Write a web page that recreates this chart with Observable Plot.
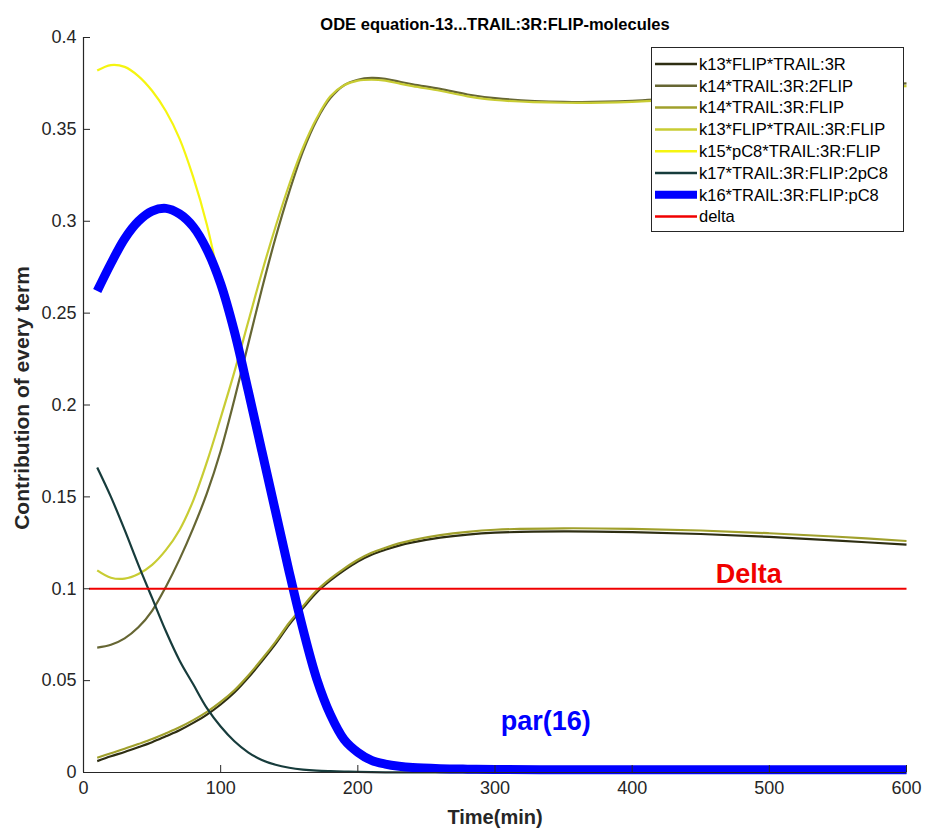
<!DOCTYPE html>
<html><head><meta charset="utf-8">
<script src="https://cdn.jsdelivr.net/npm/d3@7"></script>
<script src="https://cdn.jsdelivr.net/npm/@observablehq/plot@0.6"></script>
<style>
body{margin:0;background:#fff;}
#wrap{position:relative;width:925px;height:837px;}
#legend{position:absolute;left:651px;top:47px;}
</style></head><body><div id="wrap"></div>
<script>
// ---- data ----
const time = [10,20,30,40,50,60,70,80,90,100,110,120,130,140,150,160,170,180,190,200,210,220,230,240,260,280,300,350,400,450,500,550,600];
const k13_FLIP_TRAIL_3R = [0.0062,0.0088,0.0112,0.0138,0.0165,0.0197,0.0230,0.0270,0.0315,0.0370,0.0435,0.0515,0.0605,0.0700,0.0805,0.0895,0.0980,0.1045,0.1100,0.1148,0.1185,0.1212,0.1235,0.1252,0.1278,0.1295,0.1305,0.1312,0.1308,0.1298,0.1282,0.1262,0.1240];
const k14_TRAIL_3R_2FLIP = [0.0680,0.0695,0.0730,0.0790,0.0880,0.1010,0.1160,0.1330,0.1520,0.1750,0.2030,0.2330,0.2630,0.2910,0.3160,0.3380,0.3550,0.3670,0.3740,0.3770,0.3780,0.3775,0.3760,0.3745,0.3720,0.3690,0.3670,0.3650,0.3655,0.3680,0.3710,0.3730,0.3750];
const k14_TRAIL_3R_FLIP = [0.0080,0.0105,0.0129,0.0155,0.0182,0.0213,0.0246,0.0285,0.0330,0.0384,0.0448,0.0527,0.0616,0.0711,0.0815,0.0905,0.0990,0.1055,0.1110,0.1158,0.1196,0.1223,0.1247,0.1265,0.1292,0.1310,0.1321,0.1329,0.1326,0.1317,0.1302,0.1283,0.1260];
const k13_FLIP_TRAIL_3R_FLIP = [0.1100,0.1060,0.1055,0.1080,0.1130,0.1210,0.1320,0.1480,0.1690,0.1930,0.2180,0.2450,0.2720,0.2970,0.3200,0.3400,0.3560,0.3680,0.3740,0.3765,0.3770,0.3765,0.3750,0.3735,0.3710,0.3680,0.3660,0.3645,0.3650,0.3670,0.3700,0.3720,0.3735];
const k15_pC8_TRAIL_3R_FLIP = [0.3820,0.3850,0.3840,0.3790,0.3710,0.3600,0.3450,0.3240,0.2980,0.2650,0.2380,0.2060,0.1730,0.1400,0.1070,0.0760,0.0500,0.0310,0.0180,0.0110,0.0065,0.0045,0.0033,0.0026,0.0020,0.0018,0.0016,0.0015,0.0015,0.0015,0.0015,0.0015,0.0015];
const k17_TRAIL_3R_FLIP_2pC8 = [0.1660,0.1500,0.1320,0.1130,0.0950,0.0770,0.0610,0.0480,0.0350,0.0250,0.0170,0.0110,0.0068,0.0042,0.0026,0.0016,0.0010,0.0007,0.0005,0.0003,0.0002,0.0001,0.0001,0.0001,0,0,0,0,0,0,0,0,0];
const k16_TRAIL_3R_FLIP_pC8 = [0.2620,0.2770,0.2905,0.3000,0.3055,0.3070,0.3040,0.2970,0.2845,0.2660,0.2400,0.2080,0.1750,0.1420,0.1090,0.0780,0.0510,0.0315,0.0180,0.0110,0.0066,0.0046,0.0034,0.0027,0.0021,0.0018,0.0016,0.0015,0.0015,0.0015,0.0015,0.0015,0.0015];
const deltaTime = [4, 600];
const deltaValue = [0.1, 0.1];

const seriesNames = ["k13*FLIP*TRAIL:3R","k14*TRAIL:3R:2FLIP","k14*TRAIL:3R:FLIP","k13*FLIP*TRAIL:3R:FLIP","k15*pC8*TRAIL:3R:FLIP","k17*TRAIL:3R:FLIP:2pC8","k16*TRAIL:3R:FLIP:pC8","delta"];
const seriesColors = ["#2e2e12","#666633","#a0a02c","#c8cc33","#f5f510","#173c3c","#0000ff","#f00000"];
const seriesWidths = [2.2,2.2,2.2,2.2,2.2,2.2,9,2.2];
const seriesValues = [k13_FLIP_TRAIL_3R,k14_TRAIL_3R_2FLIP,k14_TRAIL_3R_FLIP,k13_FLIP_TRAIL_3R_FLIP,k15_pC8_TRAIL_3R_FLIP,k17_TRAIL_3R_FLIP_2pC8,k16_TRAIL_3R_FLIP_pC8];

const xTicks = [0,100,200,300,400,500,600];
const xTickLabels = ["0","100","200","300","400","500","600"];
const yTicks = [0,0.05,0.1,0.15,0.2,0.25,0.3,0.35,0.4];
const yTickLabels = ["0","0.05","0.1","0.15","0.2","0.25","0.3","0.35","0.4"];

const titleText = "ODE equation-13...TRAIL:3R:FLIP-molecules";
const xLabel = "Time(min)";
const yLabel = "Contribution of every term";
const annotations = [
  {t: 485, v: 0.108, text: "Delta", color: "#f00000"},
  {t: 337, v: 0.028, text: "par(16)", color: "#0000ff"}
];

// ---- layout ----
const W = 925, H = 837;
const mL = 83, mR = 19, mT = 37, mB = 65;
const frameW = W - mL - mR, frameH = H - mT - mB;
const FONT = "'Liberation Sans', Arial, Helvetica, sans-serif";
const AX = "#262626";

const marks = [];
seriesValues.forEach((vals, k) => {
  const data = time.map((t, i) => ({t, v: vals[i]}));
  marks.push(Plot.line(data, {x: "t", y: "v", stroke: seriesColors[k], strokeWidth: seriesWidths[k], curve: "catmull-rom", strokeLinecap: "butt"}));
});
marks.push(Plot.line(deltaTime.map((t, i) => ({t, v: deltaValue[i]})), {x: "t", y: "v", stroke: seriesColors[7], strokeWidth: 2.2, strokeLinecap: "butt"}));

marks.push(Plot.ruleX([0], {stroke: AX, strokeWidth: 1.2}));
marks.push(Plot.ruleY([0], {stroke: AX, strokeWidth: 1.2}));
marks.push(Plot.tickY(yTicks, {stroke: AX, strokeWidth: 1, insetRight: frameW - 7}));
marks.push(Plot.tickX(xTicks, {stroke: AX, strokeWidth: 1, insetTop: frameH - 7}));
marks.push(Plot.axisX(xTicks, {tickSize: 0, tickPadding: 9, tickFormat: d => xTickLabels[xTicks.indexOf(d)], label: null, fill: AX, fontSize: 18}));
marks.push(Plot.axisY(yTicks, {tickSize: 0, tickPadding: 7, tickFormat: d => yTickLabels[yTicks.indexOf(d)], label: null, fill: AX, fontSize: 18}));

marks.push(Plot.text([titleText], {frameAnchor: "top", dy: -19, fontWeight: "bold", fontSize: 16.5, fill: "#000"}));
marks.push(Plot.text([xLabel], {frameAnchor: "bottom", dy: 51, fontWeight: "bold", fontSize: 20, fill: AX}));
marks.push(Plot.text([yLabel], {frameAnchor: "left", textAnchor: "middle", dx: -61, dy: -7, rotate: -90, fontWeight: "bold", fontSize: 21, fill: AX}));
marks.push(Plot.text(annotations, {x: "t", y: "v", text: "text", fill: "color", fontWeight: "bold", fontSize: 27}));

const chart = Plot.plot({
  width: W, height: H,
  marginLeft: mL, marginRight: mR, marginTop: mT, marginBottom: mB,
  x: {domain: [0, 600]},
  y: {domain: [0, 0.4]},
  style: {fontFamily: FONT, fontSize: "18px", background: "#fff", color: AX},
  marks
});
const wrap = document.getElementById("wrap");
wrap.appendChild(chart);

// ---- legend ----
const LW = 252, LH = 184;
const lg = d3.create("svg").attr("id", "legend").attr("width", LW + 1).attr("height", LH + 1)
  .style("font-family", FONT).style("font-size", "16.5px");
lg.append("rect").attr("x", 0.5).attr("y", 0.5).attr("width", LW).attr("height", LH)
  .attr("fill", "#fff").attr("stroke", AX).attr("stroke-width", 1);
seriesNames.forEach((name, k) => {
  const cy = 17 + k * 21.8;
  lg.append("line").attr("x1", 4).attr("x2", 46).attr("y1", cy).attr("y2", cy)
    .attr("stroke", seriesColors[k]).attr("stroke-width", k === 6 ? 8 : 2.5);
  lg.append("text").attr("x", 48).attr("y", cy).attr("dy", "0.35em").attr("fill", "#000").text(name);
});
wrap.appendChild(lg.node());
</script>
</body></html>
